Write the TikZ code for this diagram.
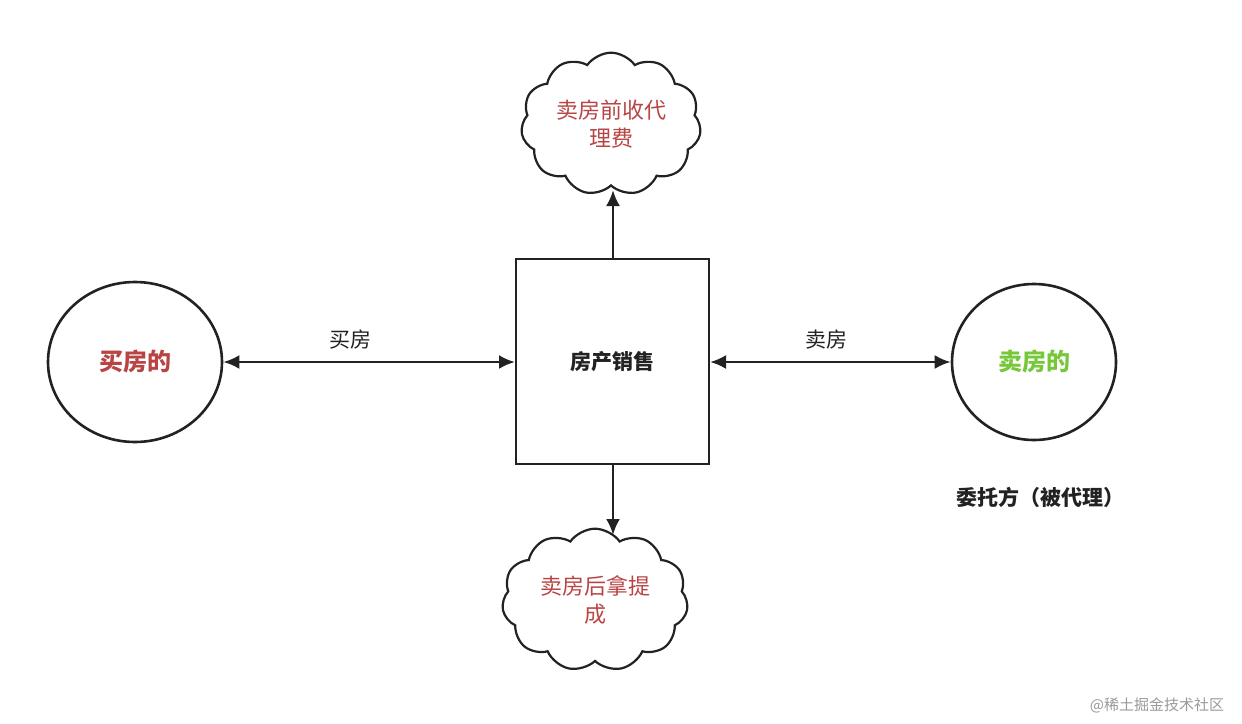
\documentclass[tikz,border=0pt]{standalone}
\usepackage{fontspec}
\setmainfont{Noto Sans CJK SC}
\usetikzlibrary{shapes.geometric,shapes.symbols,arrows.meta}
\definecolor{redt}{HTML}{B84444}
\definecolor{greent}{HTML}{76C83A}
\definecolor{linec}{HTML}{222222}
\begin{document}
\begin{tikzpicture}[x=1pt,y=-1pt,
  circ/.style={draw=linec,line width=2.6pt,ellipse,fill=white},
  cl/.style={draw=linec,line width=2.2pt,cloud,cloud puffs=11,cloud puff arc=110,aspect=1.3,text=redt,font=\fontsize{22}{28}\selectfont,align=center,inner sep=2pt},
  conn/.style={line width=2.6pt,draw=linec,-{Latex[length=16pt,width=14pt]}},
  bconn/.style={line width=2.6pt,draw=linec,{Latex[length=16pt,width=14pt]}-{Latex[length=16pt,width=14pt]}},
  lab/.style={font=\fontsize{21}{24}\selectfont,text=linec}]
\useasboundingbox (0,0) rectangle (1242,723);
\node[circ,minimum width=174pt,minimum height=160pt,text=redt,font=\bfseries\fontsize{24}{28}\selectfont] (buy) at (135,362) {买房的};
\node[circ,minimum width=164pt,minimum height=156pt,text=greent,font=\bfseries\fontsize{24}{28}\selectfont] (sell) at (1034,362) {卖房的};
\node[draw=linec,line width=2pt,minimum width=193pt,minimum height=205pt,font=\bfseries\fontsize{21}{24}\selectfont,text=linec] (box) at (612.5,361.5) {房产销售};
\node[cl,minimum width=180pt,minimum height=136pt] (top) at (611,124) {卖房前收代\\理费};
\node[cl,minimum width=186pt,minimum height=132pt] (bot) at (595,600) {卖房后拿提\\成};
\draw[bconn] (buy) -- (box.west |- buy);
\draw[bconn] (box.east |- sell) -- (sell);
\draw[conn] (box.north -| 613,0) -- (613,190) coordinate (tu);
\draw[conn] (box.south -| 613,0) -- (613,535) coordinate (td);
\node[lab] (l1) at (350,340) {买房};
\node[lab] (l2) at (826,340) {卖房};
\node[font=\bfseries\fontsize{21}{24}\selectfont,text=linec] (w) at (1040,497) {委托方（被代理）};
\node[font=\fontsize{15}{18}\selectfont,text=gray!80] (wm) at (1157,705) {@稀土掘金技术社区};
\end{tikzpicture}
\end{document}
